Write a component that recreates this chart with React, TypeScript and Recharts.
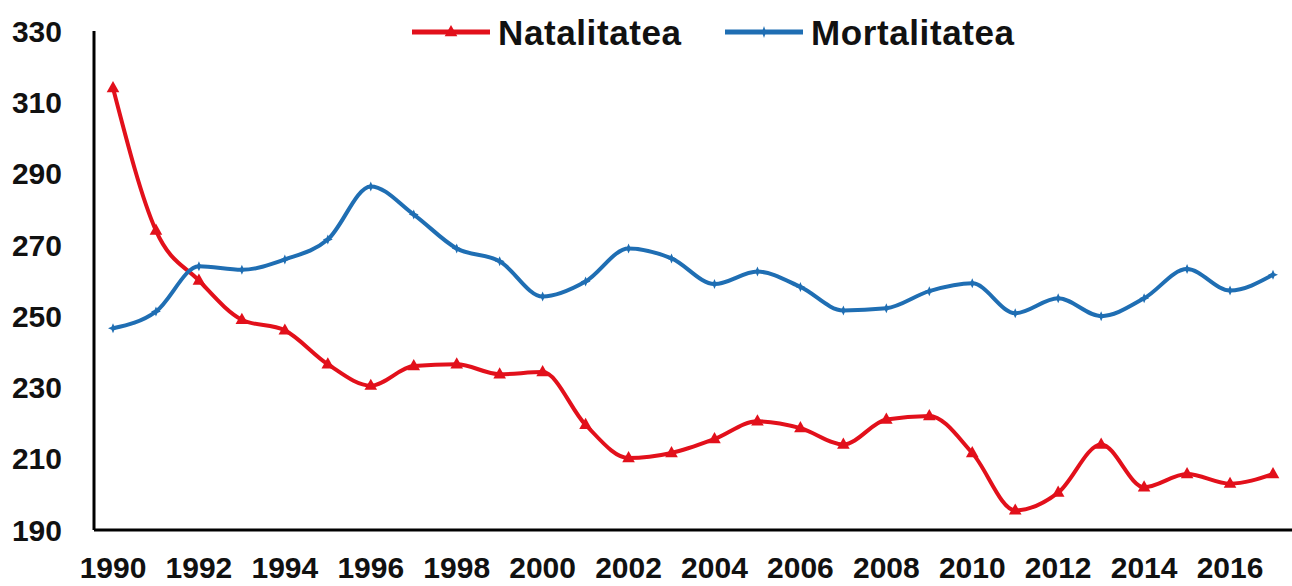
import { LineChart, Line, XAxis, YAxis, Legend } from "recharts";

const years = [
  "1990", "1991", "1992", "1993", "1994", "1995", "1996", "1997", "1998", "1999",
  "2000", "2001", "2002", "2003", "2004", "2005", "2006", "2007", "2008", "2009",
  "2010", "2011", "2012", "2013", "2014", "2015", "2016", "2017",
];

const natalitatea = [
  314, 274, 260, 249, 246, 236.5, 230.5, 236, 236.5, 233.7,
  234.3, 219.5, 210.2, 211.6, 215.5, 220.5, 218.6, 214, 221, 222,
  211.6, 195.5, 200.5, 214, 202, 205.7, 203, 205.7,
];

const mortalitatea = [
  246.6, 251.3, 264, 263, 265.9, 271.5, 286.4, 278.5, 269, 265.4,
  255.5, 259.7, 269, 266.2, 259, 262.5, 258.2, 251.6, 252.2, 257,
  259.2, 250.8, 255, 250, 255, 263.2, 257.2, 261.6,
];

const yTicks = [190, 210, 230, 250, 270, 290, 310, 330];

const RED = "#e2101b";
const BLUE = "#1f6eb3";
const FONT = "'Liberation Sans', Arial, sans-serif";

const data = years.map((y, i) => ({
  year: y,
  natalitatea: natalitatea[i],
  mortalitatea: mortalitatea[i],
}));

function Triangle({ cx, cy, color, size = 7 }: { cx?: number; cy?: number; color: string; size?: number }) {
  if (cx == null || cy == null) return null;
  const s = size;
  return (
    <path
      d={`M${cx},${cy - s} L${cx + s * 0.9},${cy + s * 0.6} L${cx - s * 0.9},${cy + s * 0.6} Z`}
      fill={color}
    />
  );
}

function Star({ cx, cy, color, size = 5 }: { cx?: number; cy?: number; color: string; size?: number }) {
  if (cx == null || cy == null) return null;
  const s = size;
  return (
    <path
      d={`M${cx},${cy - s} L${cx + 1.5},${cy - 1.5} L${cx + s},${cy} L${cx + 1.5},${cy + 1.5} L${cx},${cy + s} L${cx - 1.5},${cy + 1.5} L${cx - s},${cy} L${cx - 1.5},${cy - 1.5} Z`}
      fill={color}
    />
  );
}

function LegendContent() {
  const items = [
    { name: "Natalitatea", color: RED, x: 412, marker: "tri" },
    { name: "Mortalitatea", color: BLUE, x: 725, marker: "star" },
  ];
  return (
    <svg width={1292} height={64}>
      {items.map((it) => (
        <g key={it.name}>
          <line x1={it.x} x2={it.x + 78} y1={32} y2={32} stroke={it.color} strokeWidth={5} />
          {it.marker === "tri" ? (
            <Triangle cx={it.x + 39} cy={32} color={it.color} size={7} />
          ) : (
            <Star cx={it.x + 39} cy={32} color={it.color} size={6} />
          )}
          <text
            x={it.x + 86}
            y={32}
            dy="0.36em"
            fontSize={35}
            fontWeight={700}
            letterSpacing={0.6}
            fontFamily={FONT}
            fill="#111"
          >
            {it.name}
          </text>
        </g>
      ))}
    </svg>
  );
}

export default function App() {
  return (
    <div style={{ position: "absolute", left: 0, top: 0, width: 1292, height: 586, background: "#fff" }}>
      <LineChart
        width={1292}
        height={586}
        data={data}
        margin={{ top: 31, right: 0, bottom: 26, left: 0 }}
      >
        <XAxis
          dataKey="year"
          interval={1}
          height={30}
          padding={{ left: 19, right: 19 }}
          tickLine={false}
          tickSize={0}
          tickMargin={27}
          axisLine={{ stroke: "#000", strokeWidth: 3 }}
          tick={{ fontSize: 30, fontWeight: 700, fontFamily: FONT, fill: "#111" }}
        />
        <YAxis
          width={94}
          domain={[190, 330]}
          ticks={yTicks}
          interval={0}
          tickLine={false}
          tickSize={0}
          tickMargin={32}
          axisLine={{ stroke: "#000", strokeWidth: 3 }}
          tick={{ fontSize: 30, fontWeight: 700, fontFamily: FONT, fill: "#111" }}
        />
        <Legend
          layout="horizontal"
          verticalAlign="middle"
          align="center"
          content={<LegendContent />}
          wrapperStyle={{ top: 0, left: 0, width: 1292, height: 64 }}
        />
        <Line
          type="monotone"
          dataKey="natalitatea"
          name="Natalitatea"
          stroke={RED}
          strokeWidth={4}
          dot={(p: any) => <Triangle key={p.index} cx={p.cx} cy={p.cy} color={RED} />}
          activeDot={false}
          isAnimationActive={false}
        />
        <Line
          type="monotone"
          dataKey="mortalitatea"
          name="Mortalitatea"
          stroke={BLUE}
          strokeWidth={4}
          dot={(p: any) => <Star key={p.index} cx={p.cx} cy={p.cy} color={BLUE} />}
          activeDot={false}
          isAnimationActive={false}
        />
      </LineChart>
    </div>
  );
}
